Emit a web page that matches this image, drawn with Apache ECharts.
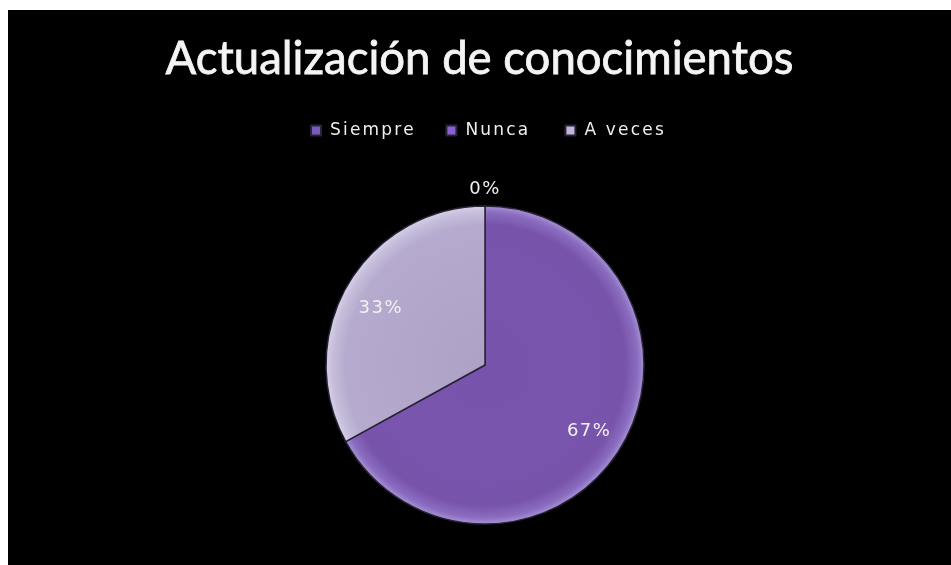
<!DOCTYPE html>
<html>
<head>
<meta charset="utf-8">
<script src="https://cdn.jsdelivr.net/npm/echarts@6/dist/echarts.min.js"></script>
<style>
html,body{margin:0;padding:0;background:#fff;width:951px;height:565px;overflow:hidden;}
#c{position:absolute;left:8px;top:10px;width:943px;height:555px;background:#000;}
</style>
</head>
<body>
<div id="c"></div>
<script>
const titleText = 'Actualización de conocimientos';
const categories = ['Siempre', 'Nunca', 'A veces'];
const values = [0, 67, 33];

// wide letter spacing like the original office rendering (tagged by font family)
(function(){
  const proto = CanvasRenderingContext2D.prototype;
  const orig = proto.fillText;
  proto.fillText = function(){
    const f = this.font || '';
    const prev = this.letterSpacing;
    if (f.indexOf('lgdsp') >= 0) this.letterSpacing = '2.2px';
    else if (f.indexOf('lblsp') >= 0) this.letterSpacing = '1.5px';
    const r = orig.apply(this, arguments);
    this.letterSpacing = prev || '0px';
    return r;
  };
})();

const CX = 477, CY = 355, R = 159;
const fills = [
  {type:'radial', x:CX, y:CY, r:R, global:true, colorStops:[{offset:0,color:'#6a4a9c'},{offset:0.9,color:'#654896'},{offset:1,color:'#8e76bd'}]},
  {type:'radial', x:CX, y:CY, r:R, global:true, colorStops:[{offset:0,color:'#7753ab'},{offset:0.6,color:'#7955ae'},{offset:0.88,color:'#7753aa'},{offset:0.96,color:'#8a6cc0'},{offset:1,color:'#a592d2'}]},
  {type:'radial', x:CX, y:CY, r:R, global:true, colorStops:[{offset:0,color:'#ada1c6'},{offset:0.6,color:'#b3a8cc'},{offset:0.88,color:'#b6abce'},{offset:0.96,color:'#c6bedb'},{offset:1,color:'#d6d0e6'}]}
];
const legendColors = ['#7a5cb8', '#8a62d0', '#c0b6d8'];

const mainData = categories.map((n, i) => ({name: n, value: values[i], itemStyle: {color: fills[i]}}));
const labelData1 = categories.map((n, i) => ({name: n, value: values[i], label: {show: i !== 0}}));
const labelData2 = categories.map((n, i) => ({name: n, value: values[i], label: {show: i === 0}}));

const labelStyle = {position:'inside', formatter:'\n{d}%', color:'#f2f2f2', fontSize:18, lineHeight:9,
  fontFamily:'"DejaVu Sans", lblsp'};

const chart = echarts.init(document.getElementById('c'));
chart.setOption({
  backgroundColor: '#000',
  animation: false,
  title: {
    text: titleText, left: 'center', top: 21,
    textStyle: {color:'#f4f4f4', fontSize:45.5, fontWeight:'normal', fontFamily:'Lato',
      textBorderColor:'#f4f4f4', textBorderWidth:0.8}
  },
  legend: {
    data: categories.map((n, i) => ({name: n, itemStyle: {color: legendColors[i]}})),
    top: 107, left: 297, icon: 'rect', itemWidth: 10, itemHeight: 10, itemGap: 45,
    textStyle: {color:'#eeeeee', fontSize:17, fontFamily:'"DejaVu Sans", lgdsp', padding:[0,0,0,4]},
    selectedMode: false
  },
  series: [
    {
      type:'pie', center:[CX, CY], radius:[0, R], startAngle:90, clockwise:true,
      percentPrecision:0, avoidLabelOverlap:false, silent:true,
      data: mainData,
      itemStyle: {borderColor:'#2a2238', borderWidth:1.5},
      label: {show:false}, labelLine: {show:false}
    },
    {
      type:'pie', center:[CX, CY], radius:[0, 236], startAngle:90, clockwise:true,
      percentPrecision:0, avoidLabelOverlap:false, silent:true, z:5,
      data: labelData1,
      itemStyle: {color:'rgba(0,0,0,0)', borderWidth:0},
      label: labelStyle, labelLine: {show:false}
    },
    {
      type:'pie', center:[CX, CY], radius:[0, 354], startAngle:90, clockwise:true,
      percentPrecision:0, avoidLabelOverlap:false, silent:true, z:5,
      data: labelData2,
      itemStyle: {color:'rgba(0,0,0,0)', borderWidth:0},
      label: labelStyle, labelLine: {show:false}
    }
  ]
});
</script>
</body>
</html>
